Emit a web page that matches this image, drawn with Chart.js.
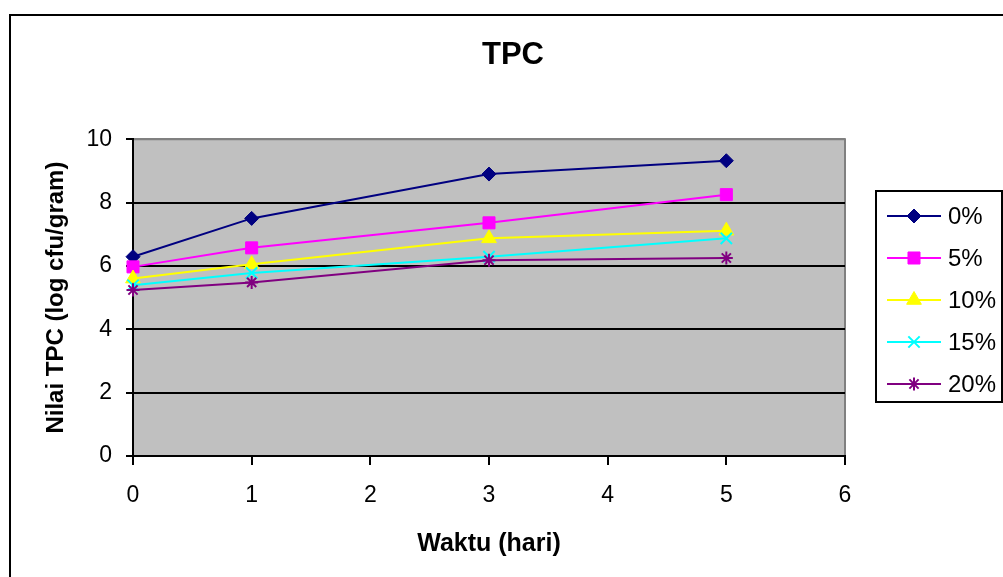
<!DOCTYPE html>
<html>
<head>
<meta charset="utf-8">
<script src="https://cdn.jsdelivr.net/npm/chart.js@4/dist/chart.umd.min.js"></script>
<style>
  html, body { margin: 0; padding: 0; background: #fff; }
  #wrap { width: 1003px; height: 577px; }
</style>
</head>
<body>
<div id="wrap"><canvas id="tpc" width="1003" height="577"></canvas></div>
<script>
const days = [0, 1, 3, 5];
const seriesLabels = ['0%', '5%', '10%', '15%', '20%'];
const tpc0 = [6.29, 7.50, 8.90, 9.32];
const tpc5 = [5.97, 6.57, 7.36, 8.25];
const tpc10 = [5.60, 6.05, 6.87, 7.11];
const tpc15 = [5.39, 5.78, 6.29, 6.87];
const tpc20 = [5.24, 5.48, 6.18, 6.25];
const xTicks = [0, 1, 2, 3, 4, 5, 6];
const yTicks = [0, 2, 4, 6, 8, 10];

const colors = ['#000080', '#FF00FF', '#FFFF00', '#00FFFF', '#800080'];
const markers = [
  { style: 'rectRot', radius: 7, width: 1 },
  { style: 'rect', radius: 8.5, width: 1 },
  { style: 'triangle', radius: 8.5, width: 1 },
  { style: 'crossRot', radius: 8, width: 2 },
  { style: 'star', radius: 6.5, width: 2 }
];
const FONT = "'Liberation Sans', Arial, sans-serif";

Chart.defaults.font.family = FONT;
Chart.defaults.color = '#000';

function makeDataset(i, values) {
  const m = markers[i];
  return {
    label: seriesLabels[i],
    data: days.map((d, k) => ({ x: d, y: values[k] })),
    borderColor: colors[i],
    backgroundColor: colors[i],
    borderWidth: 2,
    tension: 0,
    pointStyle: m.style,
    pointRadius: m.radius,
    pointHoverRadius: m.radius,
    pointBackgroundColor: colors[i],
    pointBorderColor: colors[i],
    pointBorderWidth: m.width,
    clip: false,
    order: 4 - i
  };
}

// grey plot area, excel style borders, outer frame
const frame = {
  id: 'frame',
  beforeDraw(chart) {
    const { ctx, chartArea: a } = chart;
    ctx.save();
    ctx.fillStyle = '#C0C0C0';
    ctx.fillRect(a.left, a.top, a.right - a.left, a.bottom - a.top);
    ctx.strokeStyle = '#808080';
    ctx.lineWidth = 2;
    ctx.beginPath();
    ctx.moveTo(a.left, a.top);
    ctx.lineTo(a.right, a.top);
    ctx.lineTo(a.right, a.bottom);
    ctx.stroke();
    ctx.restore();
  },
  afterDraw(chart) {
    const { ctx } = chart;
    ctx.save();
    ctx.strokeStyle = '#000';
    ctx.lineWidth = 2;
    ctx.strokeRect(10, 15, 1200, 800);
    ctx.restore();
  }
};

// boxed legend with line + marker, like the spreadsheet one
const boxLegend = {
  id: 'boxLegend',
  afterDraw(chart) {
    const { ctx } = chart;
    const box = { left: 876, top: 191, right: 1002, bottom: 402 };
    const rowH = 42;
    const firstY = 216;
    ctx.save();
    ctx.strokeStyle = '#000';
    ctx.lineWidth = 2;
    ctx.strokeRect(box.left, box.top, box.right - box.left, box.bottom - box.top);
    chart.data.datasets.forEach((ds, i) => {
      const y = firstY + i * rowH;
      ctx.strokeStyle = ds.borderColor;
      ctx.lineWidth = 2;
      ctx.beginPath();
      ctx.moveTo(887, y);
      ctx.lineTo(941, y);
      ctx.stroke();
      if (Chart.helpers && Chart.helpers.drawPoint) {
        ctx.fillStyle = ds.pointBackgroundColor;
        ctx.strokeStyle = ds.pointBorderColor;
        ctx.lineWidth = ds.pointBorderWidth;
        Chart.helpers.drawPoint(ctx, {
          pointStyle: ds.pointStyle,
          radius: ds.pointRadius,
          borderWidth: ds.pointBorderWidth,
          rotation: 0
        }, 914, y);
      }
      ctx.fillStyle = '#000';
      ctx.font = '24px ' + FONT;
      ctx.textBaseline = 'middle';
      ctx.textAlign = 'left';
      ctx.fillText(ds.label, 948, y + 1);
    });
    ctx.restore();
  }
};

new Chart(document.getElementById('tpc'), {
  type: 'line',
  data: {
    datasets: [
      makeDataset(0, tpc0),
      makeDataset(1, tpc5),
      makeDataset(2, tpc10),
      makeDataset(3, tpc15),
      makeDataset(4, tpc20)
    ]
  },
  options: {
    responsive: false,
    animation: false,
    events: [],
    layout: { padding: { left: 23, top: 15, right: 0, bottom: 0 } },
    plugins: {
      legend: { display: false },
      tooltip: { enabled: false },
      title: {
        display: true,
        text: 'TPC',
        color: '#000',
        font: { size: 31, weight: 'bold', lineHeight: 1.2 },
        padding: { top: 22, bottom: 65 }
      }
    },
    scales: {
      x: {
        type: 'linear',
        min: 0,
        max: 6,
        afterBuildTicks: (s) => { s.ticks = xTicks.map(v => ({ value: v })); },
        afterFit: (s) => { s.height = 121; },
        ticks: { font: { size: 23 }, color: '#000', padding: 17 },
        grid: { drawOnChartArea: false, tickLength: 9, tickColor: '#000', color: '#000', lineWidth: 2 },
        border: { display: true, color: '#000', width: 2 },
        title: {
          display: true,
          text: 'Waktu (hari)',
          color: '#000',
          font: { size: 25, weight: 'bold', lineHeight: 1.2 },
          padding: { top: 0, bottom: 18 }
        }
      },
      y: {
        min: 0,
        max: 10,
        afterBuildTicks: (s) => { s.ticks = yTicks.map(v => ({ value: v })); },
        afterFit: (s) => { s.width = 110; },
        ticks: { font: { size: 23 }, color: '#000', padding: 14 },
        grid: {
          tickLength: 7,
          tickColor: '#000',
          lineWidth: 2,
          color: (c) => (c.tick && c.tick.value === 10 ? '#808080' : '#000')
        },
        border: { display: true, color: '#000', width: 2 },
        title: {
          display: true,
          text: 'Nilai TPC (log cfu/gram)',
          color: '#000',
          font: { size: 24, weight: 'bold', lineHeight: 1.2 },
          padding: { top: 19, bottom: 0 }
        }
      },
      legendSpace: {
        type: 'linear',
        position: 'right',
        display: true,
        afterFit: (s) => { s.width = 158; },
        ticks: { display: false },
        grid: { display: false, drawTicks: false },
        border: { display: false }
      }
    }
  },
  plugins: [frame, boxLegend]
});
</script>
</body>
</html>
